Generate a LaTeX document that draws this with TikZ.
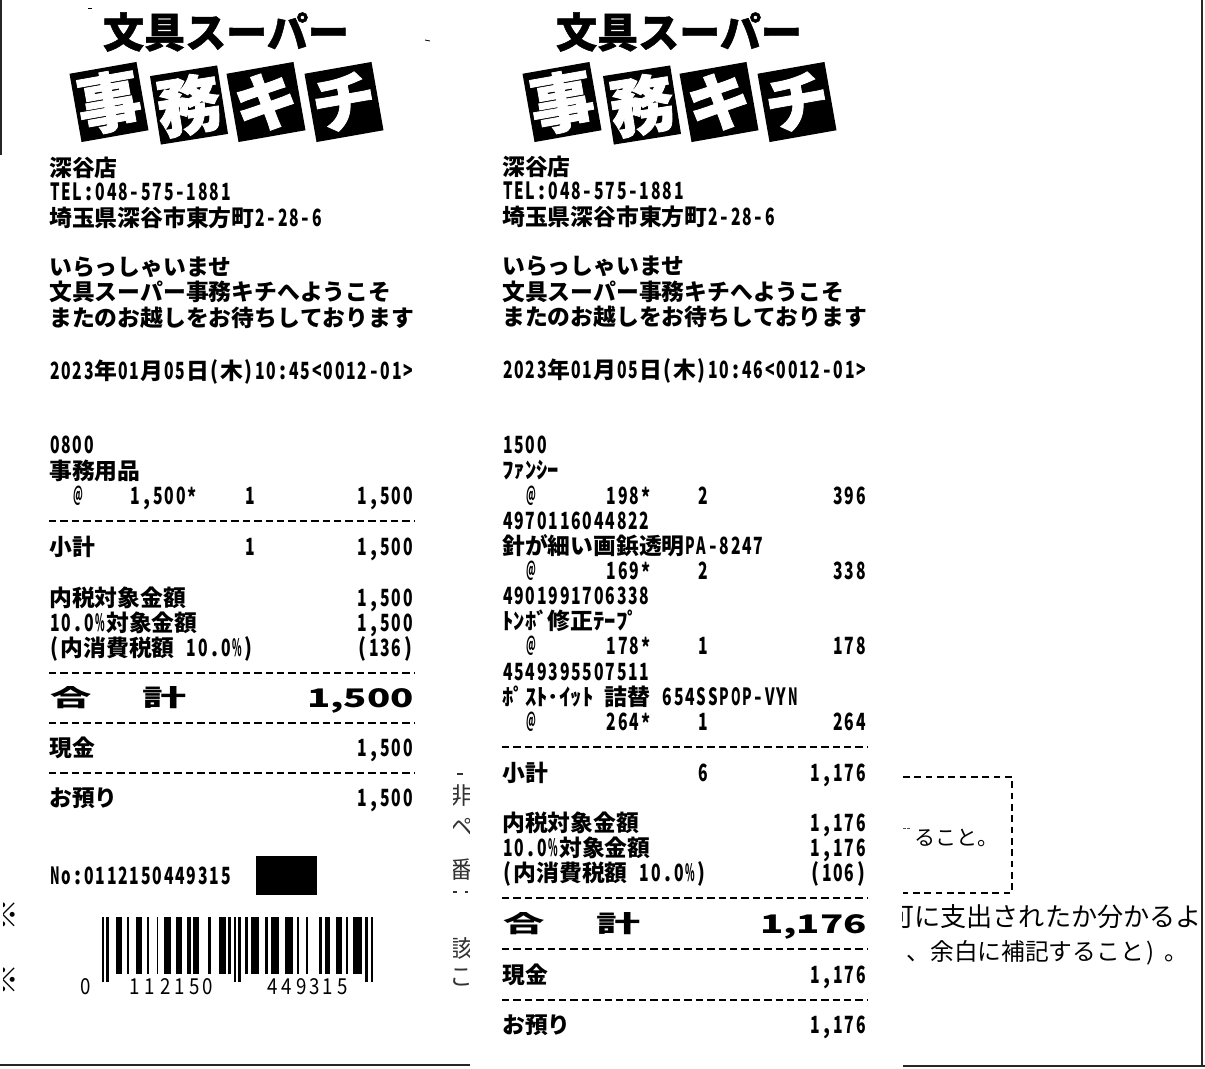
\documentclass[tikz,border=0pt]{standalone}
\usepackage{fontspec}
\usepackage{graphicx}
\newfontfamily\cjk{Noto Sans CJK JP}
\newfontfamily\cjkheavy{Noto Sans CJK JP}[FakeBold=1.2]
\newlength\halfw \setlength\halfw{8.55pt}
\newlength\fullw \setlength\fullw{17.1pt}
\makeatletter
\newcommand\gridcell[1]{%
  \expandafter\ifnum\expandafter`#1>"2E7F
    \expandafter\ifnum\expandafter`#1<"FF61
      \hbox to \fullw{\hss#1\hss}%
    \else
      \expandafter\ifnum\expandafter`#1>"FF9F
        \hbox to \fullw{\hss#1\hss}%
      \else
        \hbox to \halfw{\hss#1\hss}%
      \fi
    \fi
  \else
    {\fontsize{17.8pt}{17.8pt}\selectfont
    \setbox0=\hbox{#1}%
    \hbox to \halfw{\hss
      \expandafter\ifnum\expandafter`#1=`*\relax
        \raisebox{-1.5pt}{\resizebox{.8\halfw}{\height}{#1}}%
      \else
      \expandafter\ifnum\expandafter`#1=`@\relax
        \raisebox{1.6pt}{\resizebox{.86\halfw}{.85\height}{#1}}%
      \else
      \ifdim\wd0>.84\halfw
        \resizebox{.84\halfw}{\height}{#1}%
      \else
        \ifdim\wd0>.6\halfw\resizebox{.84\wd0}{\height}{#1}\else #1\fi
      \fi
      \fi
      \fi\hss}}%
  \fi}
\newcommand\gridtext[1]{\hbox{\cjk\bfseries\fontsize{17.1pt}{17.1pt}\selectfont
  \@tfor\gc:=#1\do{\gridcell\gc}}}
\makeatother
\newcommand\txl[3]{\node[anchor=base west,inner sep=0pt] at (#1,{#2+8}) {\gridtext{#3}};}
\newcommand\txr[3]{\node[anchor=base east,inner sep=0pt] at (#1,{#2+8}) {\gridtext{#3}};}
\newcommand\thintx[4]{\node[anchor=base west,inner sep=0pt] at (#1,{#2+8.5}) {\cjk\fontsize{#3pt}{#3pt}\selectfont #4};}
\newcommand\thinc[3]{\node[anchor=base,inner sep=0pt,text=black!80] at (#1,{#2+8.5}) {\cjk\fontsize{17.8pt}{17.8pt}\selectfont #3};}
\tikzset{
  logobox/.style={fill=black,minimum width=51pt,minimum height=52pt,inner sep=0pt},
  logochar/.style={text=white,inner sep=0pt,
    font=\cjkheavy\bfseries\fontsize{48pt}{48pt}\selectfont},
  dashrule/.style={line width=1.2pt,dash pattern=on 5.6pt off 2.95pt},
  pageedge/.style={line width=1.3pt,black!85}
}
\newcommand\logo[1]{%
  \node[anchor=center,inner sep=0pt,font=\cjkheavy\bfseries\fontsize{30.8pt}{30.8pt}\selectfont] at ({#1+226},32) {文具スーパー};
  \node[logobox,rotate=10] at ({#1+109},102) {};
  \node[logochar,rotate=10] at ({#1+109},102) {事};
  \node[logobox,rotate=9] at ({#1+189},105) {};
  \node[logochar,rotate=9] at ({#1+189},105) {務};
  \node[logobox,rotate=10] at ({#1+266},102) {};
  \node[logochar,rotate=10] at ({#1+266},102) {キ};
  \node[logobox,rotate=10] at ({#1+344},102) {};
  \node[logochar,rotate=10] at ({#1+344},102) {チ};
}
\newcommand\dashl[2]{\draw[dashrule] (#1,#2) -- ({#1+365},#2);}
\newcommand\barnum[2]{\node[inner sep=0pt,anchor=base] at (#1,994) {\cjk\fontsize{16.5pt}{16.5pt}\selectfont\resizebox{.85\width}{\height}{#2}};}
\begin{document}
\begin{tikzpicture}[x=0.75pt,y=-0.75pt]
\path[use as bounding box,fill=white] (0,0) rectangle (1205,1068);
% page edges
\draw[pageedge] (1,0) -- (1,155);
\draw[pageedge] (1202,0) -- (1202,1066);
\draw[pageedge] (0,1065) -- (470,1065);
\draw[pageedge] (903,1066) -- (1205,1066);
% specks
\draw[line width=.6pt] (88,8) -- (92,8);
\draw[line width=.6pt] (425,40) -- (430,41);
% cut-off text of the form beneath
\begin{scope}
\clip (3,890) rectangle (30,1000);
\node[inner sep=0pt] at (3,915) {\cjk\fontsize{25pt}{25pt}\selectfont ※};
\node[inner sep=0pt] at (3,980) {\cjk\fontsize{25pt}{25pt}\selectfont ※};
\end{scope}
\begin{scope}
\clip (453,760) rectangle (469,1000);
\thinc{461}{796}{非}
\thinc{461}{827}{ペ}
\thinc{461}{870}{番}
\thinc{450}{925}{、}
\thinc{461}{949}{該}
\thinc{461}{977}{こ}
\draw[line width=.8pt,black!80] (457,774) -- (463,774);
\draw[line width=1pt,black!80] (453,892) -- (457,892) (465,892) -- (468,892);
\end{scope}
\begin{scope}
\clip (902,760) rectangle (1201,1000);
\draw[line width=.7pt,black!70] (903,828) -- (906,828) (907,828) -- (910,828);
\thintx{914}{837}{15.8}{ること。}
\thintx{888}{918}{19.6}{可に支出されたか分かるよ}
\thintx{906.3}{952}{17.8}{、余白に補記すること}
\thintx{1146}{952}{17.8}{)}
\thintx{1164}{952}{17.8}{。}
\end{scope}
\draw[line width=.8pt,dash pattern=on 5pt off 3.5pt] (903,777) -- (1012,777) -- (1012,893) -- (903,893);
%
% ---------- receipt 1 ----------
\logo{0}
\txl{49}{168}{深谷店}
\txl{49}{192}{TEL:048-575-1881}
\txl{49}{218}{埼玉県深谷市東方町2-28-6}
\txl{49}{267}{いらっしゃいませ}
\txl{49}{292}{文具スーパー事務キチへようこそ}
\txl{49}{318}{またのお越しをお待ちしております}
\txl{49}{371}{2023年01月05日(木)10:45<0012-01>}
\txl{49}{445}{0800}
\txl{49}{471}{事務用品}
\txl{72}{496}{@}
\txl{129.5}{496}{1,500*}
\txl{244.5}{496}{1}
\txr{414}{496}{1,500}
\dashl{49}{521}
\txl{49}{547}{小計}
\txl{244.5}{547}{1}
\txr{414}{547}{1,500}
\txl{49}{598}{内税対象金額}
\txr{414}{598}{1,500}
\txl{49}{623}{10.0\%対象金額}
\txr{414}{623}{1,500}
\txl{49}{648}{(内消費税額~10.0\%)}
\txr{414}{648}{(136)}
\dashl{49}{673}
\node[inner sep=0pt] at (71,698) {\resizebox{31pt}{15pt}{\cjk\bfseries 合}};
\node[inner sep=0pt] at (164,698) {\resizebox{33pt}{15pt}{\cjk\bfseries 計}};
\node[inner sep=0pt,anchor=base east] at (414,707) {\resizebox{80pt}{14.2pt}{\cjk\bfseries 1,500}};
\dashl{49}{723}
\txl{49}{748}{現金}
\txr{414}{748}{1,500}
\dashl{49}{773}
\txl{49}{798}{お預り}
\txr{414}{798}{1,500}
\txl{49}{876}{No:0112150449315}
\fill (256,856) rectangle (317,895);
% barcode
\foreach \a/\b in {347/365,380/388,407/425,440/447,470/475,493/512,528/545,562/572,580/598,625/632,657/677,685/693,735/745,752/778,795/805,812/838,855/880,892/898,917/923,957/967,975/990,1008/1025,1037/1045,1060/1085}
  \fill ({\a/3},917) rectangle ({\b/3},974);
\foreach \a/\b in {305/313,318/328,703/708,715/722,1095/1103,1112/1120}
  \fill ({\a/3},917) rectangle ({\b/3},982);
\barnum{86}{0}
\barnum{135}{1}\barnum{150}{1}\barnum{166}{2}\barnum{180}{1}\barnum{195}{5}\barnum{208}{0}
\barnum{273}{4}\barnum{287}{4}\barnum{302}{9}\barnum{315}{3}\barnum{328}{1}\barnum{343}{5}
%
% ---------- receipt 2 ----------
\logo{453}
\txl{502}{167}{深谷店}
\txl{502}{191}{TEL:048-575-1881}
\txl{502}{217}{埼玉県深谷市東方町2-28-6}
\txl{502}{266}{いらっしゃいませ}
\txl{502}{292}{文具スーパー事務キチへようこそ}
\txl{502}{317}{またのお越しをお待ちしております}
\txl{502}{370}{2023年01月05日(木)10:46<0012-01>}
\txl{502}{445}{1500}
\txl{502}{470}{ﾌｧﾝｼｰ}
\txl{525}{496}{@}
\txl{605.5}{496}{198*}
\txl{697.5}{496}{2}
\txr{867}{496}{396}
\txl{502}{521}{4970116044822}
\txl{502}{546}{針が細い画鋲透明PA-8247}
\txl{525}{571}{@}
\txl{605.5}{571}{169*}
\txl{697.5}{571}{2}
\txr{867}{571}{338}
\txl{502}{596}{4901991706338}
\txl{502}{621}{ﾄﾝﾎﾞ修正ﾃｰﾌﾟ}
\txl{525}{646}{@}
\txl{605.5}{646}{178*}
\txl{697.5}{646}{1}
\txr{867}{646}{178}
\txl{502}{672}{4549395507511}
\txl{502}{697}{ﾎﾟｽﾄ･ｲｯﾄ~詰替~654SSPOP-VYN}
\txl{525}{722}{@}
\txl{605.5}{722}{264*}
\txl{697.5}{722}{1}
\txr{867}{722}{264}
\dashl{502}{747}
\txl{502}{773}{小計}
\txl{697.5}{773}{6}
\txr{867}{773}{1,176}
\txl{502}{823}{内税対象金額}
\txr{867}{823}{1,176}
\txl{502}{848}{10.0\%対象金額}
\txr{867}{848}{1,176}
\txl{502}{873}{(内消費税額~10.0\%)}
\txr{867}{873}{(106)}
\dashl{502}{898}
\node[inner sep=0pt] at (524,924) {\resizebox{31pt}{15pt}{\cjk\bfseries 合}};
\node[inner sep=0pt] at (618,924) {\resizebox{33pt}{15pt}{\cjk\bfseries 計}};
\node[inner sep=0pt,anchor=base east] at (867,933) {\resizebox{80pt}{14.2pt}{\cjk\bfseries 1,176}};
\dashl{502}{949}
\txl{502}{975}{現金}
\txr{867}{975}{1,176}
\dashl{502}{1000}
\txl{502}{1025}{お預り}
\txr{867}{1025}{1,176}
\end{tikzpicture}
\end{document}
